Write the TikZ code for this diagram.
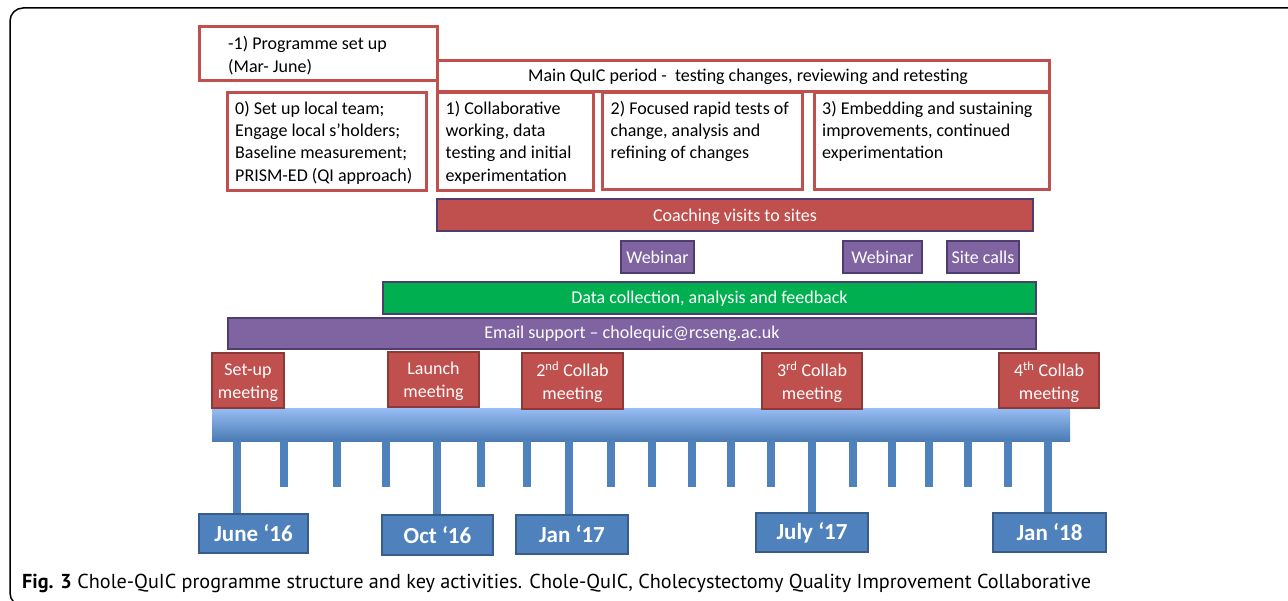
\documentclass[tikz,border=0pt]{standalone}
\usepackage{fontspec}
\setmainfont{Carlito}
\newfontfamily\capfont{PT Sans}
\usetikzlibrary{fit}
\definecolor{ored}{HTML}{C0504D}
\definecolor{oreddark}{HTML}{8C3A38}
\definecolor{opurple}{HTML}{8064A2}
\definecolor{opurpledark}{HTML}{4E3D6E}
\definecolor{ogreen}{HTML}{00B050}
\definecolor{oblue}{HTML}{4F81BD}
\definecolor{obluedark}{HTML}{385D8A}
\definecolor{obluelight}{HTML}{95BBF2}
\tikzset{
  outline/.style={draw=ored, line width=3pt, fill=white, inner sep=0pt},
  boxtext/.style={anchor=north west, inner sep=0pt, align=left, font=\fontsize{18}{22.3}\selectfont},
  bar/.style={line width=1.3pt, inner sep=0pt, text=white, font=\fontsize{18}{22}\selectfont},
  bartext/.style={text=white, inner sep=0pt, font=\fontsize{18}{22}\selectfont},
  meettext/.style={text=white, align=center, inner sep=0pt, font=\fontsize{18}{23}\selectfont},
  datetext/.style={text=white, inner sep=0pt, font=\fontsize{23}{26}\selectfont\bfseries},
  coachbar/.style={bar, fill=ored, draw=opurpledark},
  purplebar/.style={bar, fill=opurple, draw=opurpledark},
  greenbar/.style={bar, fill=ogreen, draw=opurpledark},
  meeting/.style={bar, fill=ored, draw=oreddark, line width=1.5pt, align=center},
  datebox/.style={line width=1.5pt, inner sep=0pt, fill=oblue, draw=obluedark},
  tick/.style={fill=oblue}
}
\begin{document}
\begin{tikzpicture}[x=1pt,y=-1pt]
\useasboundingbox (0,0) rectangle (1288,601);
\begin{scope}
  \clip (0,0) rectangle (1288,601);
  \draw[line width=1.5pt, rounded corners=13pt] (10,8) rectangle (1320,606);
\end{scope}

% top phase boxes
\node[outline, fit={(199,27)(437,81)}] (p1) {};
\node[boxtext, font=\fontsize{18}{23}\selectfont] (p1t) at (228,36.5) {-1) Programme set up\\(Mar- June)};
\node[outline, fit={(437,61)(1049,92)}] (mainq) {};
\node[anchor=west, inner sep=0pt, font=\fontsize{18}{22}\selectfont] (mainqt) at (528,77) {Main QuIC period -\ \ testing changes, reviewing and retesting};
\node[outline, fit={(227,93)(426,191)}] (b0) {};
\node[boxtext] (b0t) at (235,101) {0) Set up local team;\\Engage local s’holders;\\Baseline measurement;\\PRISM-ED (QI approach)};
\node[outline, fit={(437,93)(593,191)}] (b1) {};
\node[boxtext] (b1t) at (445.5,101) {1) Collaborative\\working, data\\testing and initial\\experimentation};
\node[outline, fit={(602,93)(802,190)}] (b2) {};
\node[boxtext] (b2t) at (610.5,101) {2) Focused rapid tests of\\change, analysis and\\refining of changes};
\node[outline, fit={(814,93)(1049,190)}] (b3) {};
\node[boxtext] (b3t) at (822,101) {3) Embedding and sustaining\\improvements, continued\\experimentation};

% activity bars
\node[coachbar, fit={(437,199)(1033,231)}] (coach) {};
\node[bartext] (coacht) at ([yshift=-1.5pt]coach.center) {Coaching visits to sites};
\node[purplebar, fit={(621,241)(694,273)}] (web1) {};
\node[bartext] (web1t) at (web1.center) {Webinar};
\node[purplebar, fit={(843,241)(922,273)}] (web2) {};
\node[bartext] (web2t) at (web2.center) {Webinar};
\node[purplebar, fit={(947,241)(1019,273)}] (site) {};
\node[bartext] (sitet) at (site.center) {Site calls};
\node[greenbar, fit={(383,282)(1036,314)}] (data) {};
\node[bartext] (datat) at ([yshift=-1pt]data.center) {Data collection, analysis and feedback};
\node[purplebar, fit={(228,318)(1036,349)}] (email) {};
\node[bartext] (emailt) at (email.center) {Email support – cholequic@rcseng.ac.uk};

% timeline bar
\shade[top color=obluelight, bottom color=oblue!95!black] (212,409) rectangle (1070,441);

% ticks
\foreach \x in {284,337,386,481,527,611,652,692,731,771,853,892,929,968,1008}{
  \fill[tick] (\x-3.6,440) rectangle (\x+3.6,487);
}
\foreach \x in {237,437,569,812,1048}{
  \fill[tick] (\x-3.6,440) rectangle (\x+3.6,515);
}

% meetings
\node[meeting, fit={(212,353)(284,408)}] (m1) {};
\node[meettext] (m1t) at ([yshift=-2pt]m1.center) {Set-up\\meeting};
\node[meeting, fit={(388,352)(479,407)}] (m2) {};
\node[meettext] (m2t) at ([yshift=-2pt]m2.center) {Launch\\meeting};
\node[meeting, fit={(522,353)(623,409)}] (m3) {};
\node[meettext] (m3t) at ([yshift=-1.5pt]m3.center) {2\textsuperscript{nd} Collab\\meeting};
\node[meeting, fit={(762,353)(862,409)}] (m4) {};
\node[meettext] (m4t) at ([yshift=-1.5pt]m4.center) {3\textsuperscript{rd} Collab\\meeting};
\node[meeting, fit={(999,353)(1099,408)}] (m5) {};
\node[meettext] (m5t) at ([yshift=-1.5pt]m5.center) {4\textsuperscript{th} Collab\\meeting};

% dates
\node[datebox, fit={(199,514)(308,553)}] (d1) {};
\node[datetext] (d1t) at (d1.center) {June ‘16};
\node[datebox, fit={(382,515)(493,555)}] (d2) {};
\node[datetext] (d2t) at (d2.center) {Oct ‘16};
\node[datebox, fit={(516,515)(628,554)}] (d3) {};
\node[datetext] (d3t) at (d3.center) {Jan ‘17};
\node[datebox, fit={(756,513)(868,552)}] (d4) {};
\node[datetext] (d4t) at (d4.center) {July ‘17};
\node[datebox, fit={(993,513)(1106,552)}] (d5) {};
\node[datetext] (d5t) at (d5.center) {Jan ‘18};

% caption
\node[anchor=base west, inner sep=0pt, font=\capfont\fontsize{20.2}{24}\selectfont] (cap) at (22,588.5) {\textbf{Fig. 3} Chole-QuIC programme structure and key activities. Chole-QuIC, Cholecystectomy Quality Improvement Collaborative};
\end{tikzpicture}
\end{document}
